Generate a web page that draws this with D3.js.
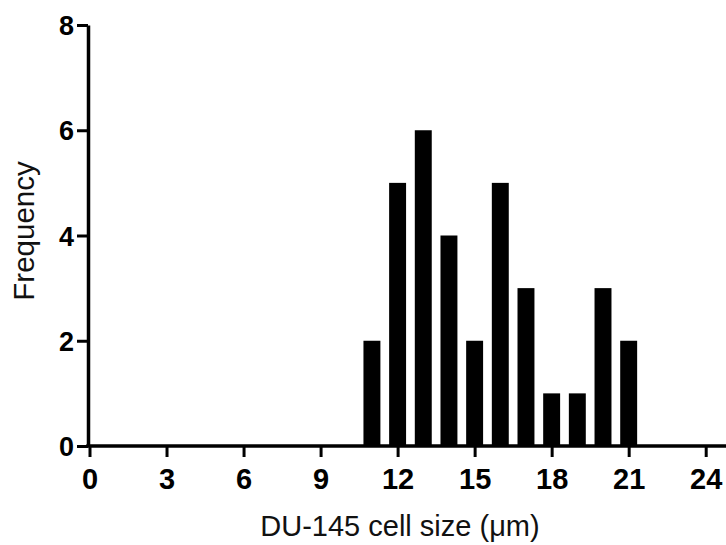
<!DOCTYPE html>
<html>
<head>
<meta charset="utf-8">
<script src="https://cdn.jsdelivr.net/npm/d3@7"></script>
<style>
  html, body { margin: 0; padding: 0; background: #fff; }
  svg { display: block; }
</style>
</head>
<body>
<svg id="chart" width="726" height="545"></svg>
<script>
const sizes = [11, 12, 13, 14, 15, 16, 17, 18, 19, 20, 21];
const frequency = [2, 5, 6, 4, 2, 5, 3, 1, 1, 3, 2];
const xTicks = [0, 3, 6, 9, 12, 15, 18, 21, 24];
const yTicks = [0, 2, 4, 6, 8];

const svg = d3.select("#chart");
const x = d3.scaleLinear().domain([0, 24]).range([89.5, 705.7]);
const y = d3.scaleLinear().domain([0, 8]).range([446, 25]);
const barW = 0.66;

// bars
svg.append("g").selectAll("rect")
  .data(sizes.map((s, i) => ({ s, f: frequency[i] })))
  .join("rect")
  .attr("x", d => x(d.s - barW / 2))
  .attr("width", d => x(d.s + barW / 2) - x(d.s - barW / 2))
  .attr("y", d => y(d.f))
  .attr("height", d => y(0) - y(d.f))
  .attr("fill", "#000");

// y axis
const yAxis = d3.axisLeft(y).tickValues(yTicks).tickSize(11).tickPadding(3).tickSizeOuter(0);
const gy = svg.append("g").attr("transform", `translate(${x(0) - 1.5},0)`).call(yAxis);
gy.select(".domain").attr("stroke", "#000").attr("stroke-width", 3.5);
gy.selectAll(".tick line").attr("stroke", "#000").attr("stroke-width", 3);
gy.selectAll(".tick text")
  .attr("font-family", "'Liberation Sans', Arial, sans-serif")
  .attr("font-weight", "bold").attr("font-size", 27).attr("fill", "#000")
  .attr("dy", "0.36em");

// x axis
const xAxis = d3.axisBottom(x).tickValues(xTicks).tickSize(11).tickPadding(11).tickSizeOuter(0);
const gx = svg.append("g").attr("transform", `translate(0,${y(0)})`).call(xAxis);
gx.select(".domain").remove();
gx.append("line").attr("x1", x(0) - 3.25).attr("x2", 726).attr("y1", 0).attr("y2", 0)
  .attr("stroke", "#000").attr("stroke-width", 3.5);
gx.selectAll(".tick line").attr("stroke", "#000").attr("stroke-width", 3);
gx.selectAll(".tick text")
  .attr("font-family", "'Liberation Sans', Arial, sans-serif")
  .attr("font-weight", "bold").attr("font-size", 29).attr("fill", "#000");

// axis titles
svg.append("text")
  .attr("x", 400).attr("y", 536)
  .attr("text-anchor", "middle")
  .attr("font-family", "'Liberation Sans', Arial, sans-serif")
  .attr("font-size", 29).attr("fill", "#111")
  .text("DU-145 cell size (μm)");

svg.append("text")
  .attr("transform", "translate(34,231) rotate(-90)")
  .attr("text-anchor", "middle")
  .attr("font-family", "'Liberation Sans', Arial, sans-serif")
  .attr("font-size", 29.5).attr("fill", "#111")
  .text("Frequency");
</script>
</body>
</html>
